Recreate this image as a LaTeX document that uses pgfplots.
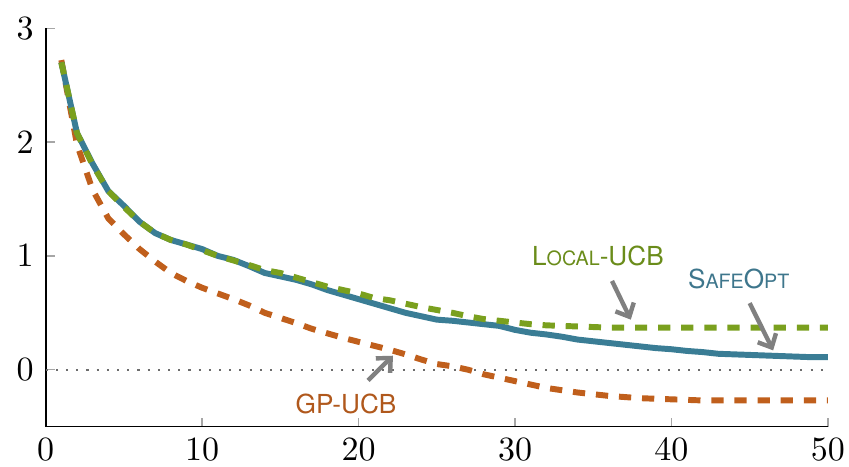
\documentclass[border=0pt]{standalone}
\usepackage{pgfplots}
\pgfplotsset{compat=1.18}
\usepackage{fontspec}
\usetikzlibrary{arrows.meta}
\newfontfamily\labelfont{TeX Gyre Heros}

\definecolor{safeblue}{RGB}{58,125,149}
\definecolor{localgreen}{RGB}{122,160,30}
\definecolor{gporange}{RGB}{192,95,28}
\definecolor{safetext}{RGB}{62,118,140}
\definecolor{localtext}{RGB}{106,140,26}
\definecolor{gptext}{RGB}{176,88,28}

% small capitals for the method names
\newcommand{\sct}[1]{{\fontsize{5.8}{6}\selectfont #1}}
\newcommand{\nm}{\labelfont\fontsize{7.7}{9}\selectfont}

\pgfplotstableread{
x safeopt local gpucb
1  2.70  2.70  2.72
2  2.08  2.08  1.98
3  1.81  1.80  1.58
4  1.57  1.57  1.33
5  1.44  1.43  1.19
6  1.30  1.30  1.06
7  1.20  1.20  0.95
8  1.14  1.14  0.85
9  1.10  1.10  0.78
10 1.06  1.05  0.72
11 1.00  1.00  0.67
12 0.965 0.96  0.62
13 0.91  0.92  0.565
14 0.85  0.875 0.50
15 0.82  0.85  0.455
16 0.79  0.81  0.41
17 0.75  0.77  0.36
18 0.70  0.73  0.32
19 0.66  0.70  0.28
20 0.62  0.67  0.245
21 0.58  0.63  0.21
22 0.54  0.61  0.175
23 0.50  0.58  0.135
24 0.47  0.55  0.09
25 0.44  0.525 0.05
26 0.43  0.50  0.03
27 0.415 0.47  0.00
28 0.40  0.445 -0.04
29 0.385 0.43  -0.07
30 0.35  0.415 -0.10
31 0.325 0.40  -0.13
32 0.31  0.39  -0.16
33 0.29  0.385 -0.18
34 0.265 0.38  -0.20
35 0.25  0.375 -0.215
36 0.235 0.37  -0.23
37 0.22  0.37  -0.24
38 0.205 0.37  -0.25
39 0.19  0.37  -0.255
40 0.18  0.37  -0.26
41 0.165 0.37  -0.265
42 0.155 0.37  -0.27
43 0.14  0.37  -0.27
44 0.135 0.37  -0.27
45 0.13  0.37  -0.27
46 0.125 0.37  -0.27
47 0.12  0.37  -0.27
48 0.115 0.37  -0.27
49 0.11  0.37  -0.27
50 0.11  0.37  -0.27
}\regret

\begin{document}
\begin{tikzpicture}
\useasboundingbox (-13.44pt,-11.85pt) rectangle (236.3pt,125.5pt);
\begin{axis}[
  at={(0,0)}, anchor=south west,
  scale only axis,
  width=230.1pt, height=117.2pt,
  xmin=0, xmax=50, ymin=-0.5, ymax=3,
  axis lines=left,
  axis line style={-, black, line width=0.5pt},
  xtick={0,10,...,50},
  ytick={0,1,2,3},
  tick align=inside,
  major tick length=2.6pt,
  tick style={gray!70, line width=0.4pt},
  tick label style={font=\fontsize{10.4}{12}\selectfont},
  clip=false,
]
\addplot[gray!85!black, line width=0.6pt, dash pattern=on 0.6pt off 2.4pt] coordinates {(0,0) (50,0)};
\addplot[gporange, line width=1.75pt, dash pattern=on 3.6pt off 3.2pt]
  table[x=x, y=gpucb] {\regret};
\addplot[safeblue, line width=1.75pt, line join=round]
  table[x=x, y=safeopt] {\regret};
\addplot[localgreen, line width=1.75pt, dash pattern=on 3.6pt off 3.2pt]
  table[x=x, y=local] {\regret};

\node[text=localtext] at (axis cs:35.3,1.0) {\nm L\sct{OCAL}-UCB};
\node[text=safetext] at (axis cs:44.3,0.80) {\nm S\sct{AFE}O\sct{PT}};
\node[text=gptext] at (axis cs:19.2,-0.30) {\nm GP-UCB};

\draw[gray, line width=1.3pt, -{Straight Barb[length=3.2pt,width=6pt]}]
  (axis cs:36.2,0.78) -- (axis cs:37.4,0.44);
\draw[gray, line width=1.3pt, -{Straight Barb[length=3.2pt,width=6pt]}]
  (axis cs:45.0,0.585) -- (axis cs:46.5,0.17);
\draw[gray, line width=1.3pt, -{Straight Barb[length=3.2pt,width=6pt]}]
  (axis cs:20.6,-0.094) -- (axis cs:22.2,0.123);
\end{axis}
\end{tikzpicture}
\end{document}
